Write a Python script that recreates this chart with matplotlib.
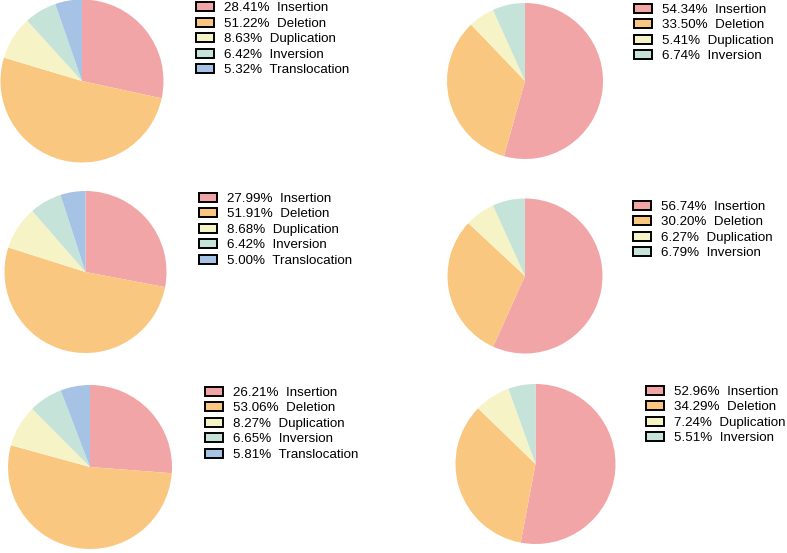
import matplotlib
matplotlib.use("Agg")
import matplotlib.pyplot as plt
from matplotlib.patches import Patch

plt.rcParams['font.family'] = ['Liberation Sans', 'DejaVu Sans']

W, H = 787, 553

types5 = ['Insertion', 'Deletion', 'Duplication', 'Inversion', 'Translocation']
types4 = ['Insertion', 'Deletion', 'Duplication', 'Inversion']
colors = ['#F2A5A6', '#F9C77F', '#F6F4C6', '#C5E3D8', '#A6C3E6']

# left column (5 types), right column (4 types)
left_top = [28.41, 51.22, 8.63, 6.42, 5.32]
left_mid = [27.99, 51.91, 8.68, 6.42, 5.00]
left_bot = [26.21, 53.06, 8.27, 6.65, 5.81]
right_top = [54.34, 33.50, 5.41, 6.74]
right_mid = [56.74, 30.20, 6.27, 6.79]
right_bot = [52.96, 34.29, 7.24, 5.51]

# pie centre/radius and legend anchor, in pixels
panels = [
    (left_top, types5, (82, 81, 81.5), (196, 7.5)),
    (right_top, types4, (525, 81, 78), (634, 9)),
    (left_mid, types5, (85.5, 272, 81), (199, 198)),
    (right_mid, types4, (525, 276, 77.5), (633, 206)),
    (left_bot, types5, (90, 467, 82), (205, 392)),
    (right_bot, types4, (535.5, 464, 80), (646, 391)),
]

fig = plt.figure(figsize=(W / 100, H / 100), dpi=100)

for vals, labels, (cx, cy, r), (lx, ly) in panels:
    ax = fig.add_axes([(cx - r) / W, 1 - (cy + r) / H, 2 * r / W, 2 * r / H])
    cols = colors[:len(vals)]
    ax.pie(vals, colors=cols, startangle=90, counterclock=False,
           wedgeprops=dict(linewidth=0))
    ax.set_xlim(-1, 1)
    ax.set_ylim(-1, 1)
    ax.axis('off')

    handles = [Patch(facecolor=c, edgecolor='black', linewidth=1.4) for c in cols]
    texts = ['%.2f%%  %s' % (v, lab) for v, lab in zip(vals, labels)]
    fig.legend(handles, texts, loc='upper left',
               bbox_to_anchor=(lx / W, 1 - (ly - 5.5) / H),
               frameon=False, borderpad=0, borderaxespad=0,
               fontsize=9.6, handlelength=1.35, handleheight=0.7,
               handletextpad=0.72, labelspacing=0.24)

fig.savefig('out.png', dpi=100)
